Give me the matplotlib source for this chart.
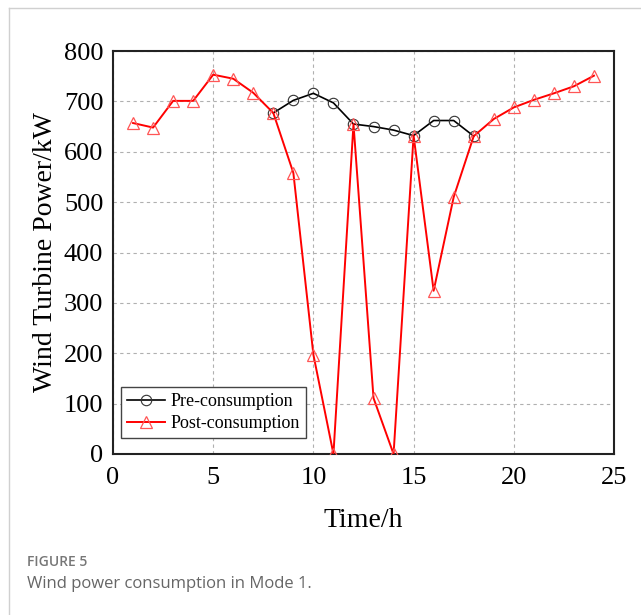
import matplotlib
matplotlib.use("Agg")
import matplotlib.pyplot as plt
from matplotlib.lines import Line2D

post_hours = list(range(1, 25))
post_consumption = [657, 648, 701, 701, 753, 745, 717, 677, 558, 197, 0, 655,
                    111, 0, 632, 324, 510, 631, 665, 688, 703, 716, 730, 751]
pre_hours = list(range(8, 19))
pre_consumption = [677, 702, 716, 697, 655, 650, 643, 632, 662, 662, 631]
x_ticks = [0, 5, 10, 15, 20, 25]
y_ticks = [0, 100, 200, 300, 400, 500, 600, 700, 800]

fig = plt.figure(figsize=(6.41, 6.15), dpi=100)
serif = ["Liberation Serif", "DejaVu Serif"]

# card border (left and top)
fig.add_artist(Line2D([9/641, 9/641], [0, 1 - 8/615], color="#d0d0d0", lw=1.0, transform=fig.transFigure))
fig.add_artist(Line2D([9/641, 1], [1 - 8/615, 1 - 8/615], color="#d0d0d0", lw=1.0, transform=fig.transFigure))

ax = fig.add_axes([113/641, 1 - 454/615, (614 - 113)/641, (454 - 51)/615])
ax.plot(pre_hours, pre_consumption, color="black", lw=1.2, marker="o", ms=7.5,
        mfc="none", mec="#333333", mew=0.8, label="Pre-consumption", zorder=3)
ax.plot(post_hours, post_consumption, color="red", lw=1.4, marker="^", ms=8.5,
        mfc="none", mec="#ff5555", mew=0.9, label="Post-consumption", zorder=4)

ax.set_xlim(0, 25)
ax.set_ylim(0, 800)
ax.set_xticks(x_ticks)
ax.set_yticks(y_ticks)
ax.grid(True, color="#b0b0b0", ls=(0, (3, 3)), lw=0.8)
ax.tick_params(length=0, labelsize=19)
ax.tick_params(axis="x", pad=9)
ax.tick_params(axis="y", pad=7)
for lab in ax.get_xticklabels() + ax.get_yticklabels():
    lab.set_fontfamily(serif)
for s in ax.spines.values():
    s.set_linewidth(1.5)
    s.set_color("#222222")
ax.set_xlabel("Time/h", fontsize=20, family=serif, labelpad=14)
ax.set_ylabel("Wind Turbine Power/kW", fontsize=20, family=serif, labelpad=4)

leg = ax.legend(loc="lower left", bbox_to_anchor=(0.008, 0.03), prop={"family": serif, "size": 13},
                handlelength=2.1, fancybox=False, edgecolor="#444444", framealpha=1,
                borderpad=0.35, labelspacing=0.25, handletextpad=0.3, borderaxespad=0.2)
leg.get_frame().set_linewidth(1.0)

fig.text(27/641, 1 - 562/615, "FIGURE 5", fontsize=10, color="#777777", family="Open Sans",
         weight="semibold", va="center")
fig.text(27/641, 1 - 584/615, "Wind power consumption in Mode 1.", fontsize=12, color="#666666",
         family="Open Sans", va="center")

fig.savefig("out.png", dpi=100)
